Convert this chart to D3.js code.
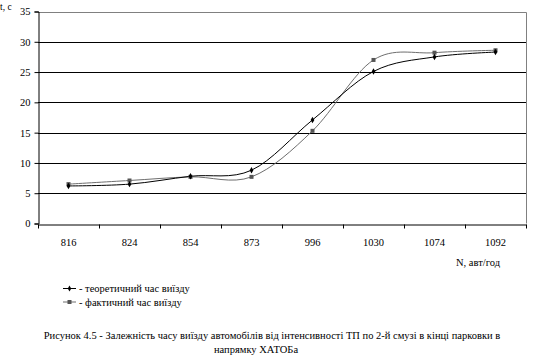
<!DOCTYPE html>
<html>
<head>
<meta charset="utf-8">
<script src="https://cdn.jsdelivr.net/npm/d3@7"></script>
<style>
  body { margin: 0; background: #fff; }
  svg text { font-family: 'Liberation Serif', 'Times New Roman', serif; fill: #000; }
</style>
</head>
<body>
<div id="chart"></div>
<script>
const categories = ["816", "824", "854", "873", "996", "1030", "1074", "1092"];
const theoretical = [6.2, 6.5, 7.8, 8.8, 17.1, 25.1, 27.5, 28.3];
const actual = [6.5, 7.1, 7.7, 7.7, 15.3, 27.0, 28.2, 28.6];
const yTicks = [0, 5, 10, 15, 20, 25, 30, 35];
const seriesNames = ["- теоретичний час виїзду", "- фактичний час виїзду"];

const width = 537, height = 360;
const plot = {left: 38, right: 526, top: 11.5, bottom: 223.5};
const serif = "'Liberation Serif', 'Times New Roman', serif";

const svg = d3.select("#chart").append("svg")
    .attr("width", width)
    .attr("height", height)
    .attr("font-family", serif);

const x = d3.scaleBand().domain(categories).range([plot.left, plot.right]);
const y = d3.scaleLinear().domain([0, 35]).range([plot.bottom, plot.top]);
const cx = d => x(d) + x.bandwidth() / 2;

// gridlines
svg.append("g").selectAll("line")
    .data(yTicks.filter(t => t > 0 && t < 35))
    .join("line")
    .attr("x1", plot.left).attr("x2", plot.right)
    .attr("y1", d => Math.round(y(d)) + 0.5).attr("y2", d => Math.round(y(d)) + 0.5)
    .attr("stroke", "#000").attr("stroke-width", 1);

// plot border (top & right)
svg.append("path")
    .attr("d", `M${plot.left},${Math.round(plot.top) + 0.5}H${plot.right + 0.5}V${plot.bottom}`)
    .attr("fill", "none").attr("stroke", "#808080");

// y axis
const yAxis = svg.append("g")
    .attr("transform", `translate(${plot.left + 0.5},0)`)
    .call(d3.axisLeft(y).tickValues(yTicks).tickSize(4).tickPadding(4))
    .attr("font-family", serif).attr("font-size", 10.5);
yAxis.select(".domain").attr("stroke", "#000");
yAxis.selectAll("line").attr("stroke", "#000");

// x axis
const xAxis = svg.append("g")
    .attr("transform", `translate(0,${Math.round(plot.bottom) + 0.5})`)
    .call(d3.axisBottom(x).tickSize(0).tickPadding(14))
    .attr("font-family", serif).attr("font-size", 10.5);
xAxis.select(".domain").attr("stroke", "#000");
xAxis.selectAll(".bticks").data(d3.range(categories.length + 1))
    .join("line")
    .attr("x1", i => plot.left + i * x.bandwidth() + 0.5)
    .attr("x2", i => plot.left + i * x.bandwidth() + 0.5)
    .attr("y1", 0).attr("y2", 4)
    .attr("stroke", "#000");

// lines
const line = d3.line()
    .x((d, i) => cx(categories[i]))
    .y(d => y(d))
    .curve(d3.curveCardinal.tension(0));

svg.append("path").datum(actual)
    .attr("d", line).attr("fill", "none")
    .attr("stroke", "#6e6e6e").attr("stroke-width", 1);
svg.append("path").datum(theoretical)
    .attr("d", line).attr("fill", "none")
    .attr("stroke", "#000").attr("stroke-width", 1);

// markers
svg.append("g").selectAll("rect")
    .data(actual)
    .join("rect")
    .attr("x", (d, i) => cx(categories[i]) - 2)
    .attr("y", d => y(d) - 2)
    .attr("width", 4).attr("height", 4)
    .attr("fill", "#555");
svg.append("g").selectAll("path")
    .data(theoretical)
    .join("path")
    .attr("d", d3.symbol(d3.symbolDiamond, 12))
    .attr("transform", (d, i) => `translate(${cx(categories[i])},${y(d)})`)
    .attr("fill", "#000");

// axis titles
svg.append("text").attr("x", 0).attr("y", 10)
    .attr("font-size", 9.5).text("t, c");
svg.append("text").attr("x", 500).attr("y", 266)
    .attr("text-anchor", "end")
    .attr("font-size", 10.5).text("N, авт/год");

// legend
const legend = svg.append("g");
const legendY = [288.5, 302];
legend.selectAll("line").data(seriesNames)
    .join("line")
    .attr("x1", 63).attr("x2", 76)
    .attr("y1", (d, i) => legendY[i]).attr("y2", (d, i) => legendY[i])
    .attr("stroke", (d, i) => i === 0 ? "#000" : "#6e6e6e");
legend.append("path")
    .attr("d", d3.symbol(d3.symbolDiamond, 10))
    .attr("transform", `translate(69.5,${legendY[0]})`);
legend.append("rect")
    .attr("x", 67.5).attr("y", legendY[1] - 2)
    .attr("width", 4).attr("height", 4).attr("fill", "#555");
legend.selectAll("text").data(seriesNames)
    .join("text")
    .attr("x", 79).attr("y", (d, i) => legendY[i] + 3.5)
    .attr("font-size", 10.5)
    .text(d => d);

// caption
svg.append("text").attr("x", 272).attr("y", 339)
    .attr("text-anchor", "middle").attr("font-size", 10.5)
    .text("Рисунок 4.5 - Залежність часу виїзду автомобілів від  інтенсивності ТП по 2-й смузі в кінці парковки в");
svg.append("text").attr("x", 256).attr("y", 353)
    .attr("text-anchor", "middle").attr("font-size", 10.5)
    .text("напрямку ХАТОБа");
</script>
</body>
</html>
